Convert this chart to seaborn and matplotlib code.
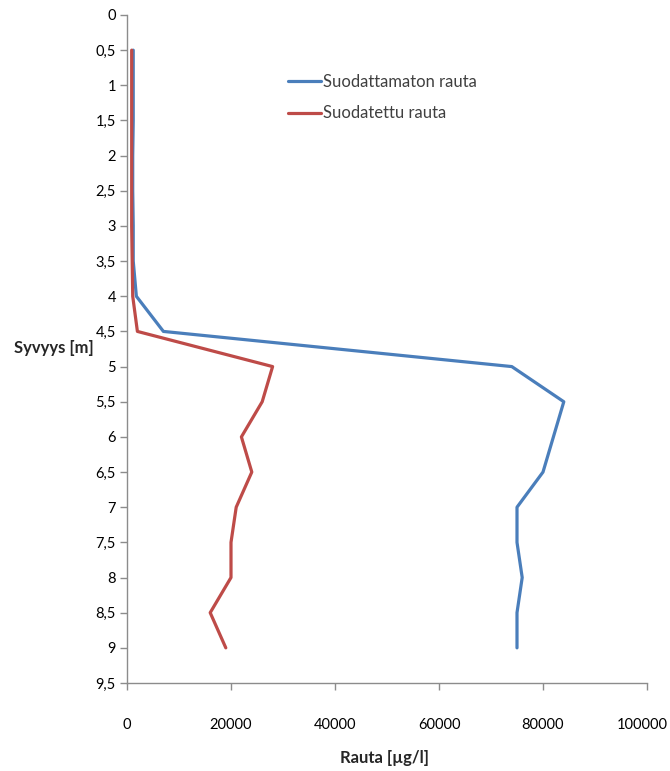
import matplotlib
matplotlib.use("Agg")
import matplotlib.pyplot as plt
import matplotlib.transforms as mtransforms
import seaborn as sns
import pandas as pd
import numpy as np
from matplotlib.ticker import FuncFormatter, FixedLocator

depth = [0.5, 1, 1.5, 2, 2.5, 3, 3.5, 4, 4.5, 5, 5.5, 6, 6.5, 7, 7.5, 8, 8.5, 9]
unfiltered = [1200, 1200, 1200, 1100, 1100, 1200, 1200, 1800, 7000, 74000, 84000,
              82000, 80000, 75000, 75000, 76000, 75000, 75000]
filtered = [900, 900, 900, 900, 900, 900, 1000, 1100, 2000, 28000, 26000,
            22000, 24000, 21000, 20000, 20000, 16000, 19000]
series_names = ["Suodattamaton rauta", "Suodatettu rauta"]
colors = ["#4A7EBB", "#BE4B48"]

df = pd.concat([
    pd.DataFrame({"Syvyys": depth, "Rauta": unfiltered, "Sarja": series_names[0]}),
    pd.DataFrame({"Syvyys": depth, "Rauta": filtered, "Sarja": series_names[1]}),
])

sns.set_style("white")
plt.rcParams["font.family"] = ["Lato", "DejaVu Sans"]

fig = plt.figure(figsize=(6.7, 7.71), dpi=100)
ax = fig.add_axes([127/670, 1-683/771, (647-127)/670, (683-15)/771])

sns.lineplot(data=df, x="Rauta", y="Syvyys", hue="Sarja", palette=colors,
             orient="y", linewidth=2.3, ax=ax, legend=True)

ax.set_xlim(0, 100000)
ax.set_ylim(9.5, 0)
ax.yaxis.set_major_locator(FixedLocator(np.arange(0, 9.51, 0.5)))
ax.xaxis.set_major_locator(FixedLocator([0, 20000, 40000, 60000, 80000, 100000]))
ax.yaxis.set_major_formatter(FuncFormatter(lambda v, p: ("%g" % v).replace(".", ",")))
ax.xaxis.set_major_formatter(FuncFormatter(lambda v, p: "%d" % v))

for s in ["top", "right"]:
    ax.spines[s].set_visible(False)
for s in ["left", "bottom"]:
    ax.spines[s].set_color("#8c8c8c")
    ax.spines[s].set_linewidth(1.0)

ax.tick_params(axis="y", direction="out", length=5, width=1, color="#8c8c8c",
               labelsize=10.5, labelcolor="#000000", pad=3, left=True)
ax.tick_params(axis="x", direction="out", length=5, width=1, color="#8c8c8c",
               labelsize=10.5, labelcolor="#000000", pad=20, bottom=True)

# keep the last x tick label inside the figure, as in the reference
fig.canvas.draw()
last = ax.get_xticklabels()[-1]
last.set_transform(last.get_transform() +
                   mtransforms.ScaledTranslation(-5/100, 0, fig.dpi_scale_trans))

ax.set_ylabel("")
ax.set_xlabel("")
fig.text(385/670, 1-758/771, "Rauta [µg/l]", fontsize=12, fontweight="bold",
         ha="center", va="center")
fig.text(14/670, 1-348/771, "Syvyys [m]", fontsize=12, fontweight="bold",
         ha="left", va="center")

leg = ax.legend(loc="upper left", bbox_to_anchor=((281-127)/520, 1-(67-15)/668),
                frameon=False, fontsize=12, handlelength=2.0, handletextpad=0.1,
                labelspacing=0.95, borderaxespad=0)
for t in leg.get_texts():
    t.set_color("#404040")

fig.savefig("out.png", dpi=100)
